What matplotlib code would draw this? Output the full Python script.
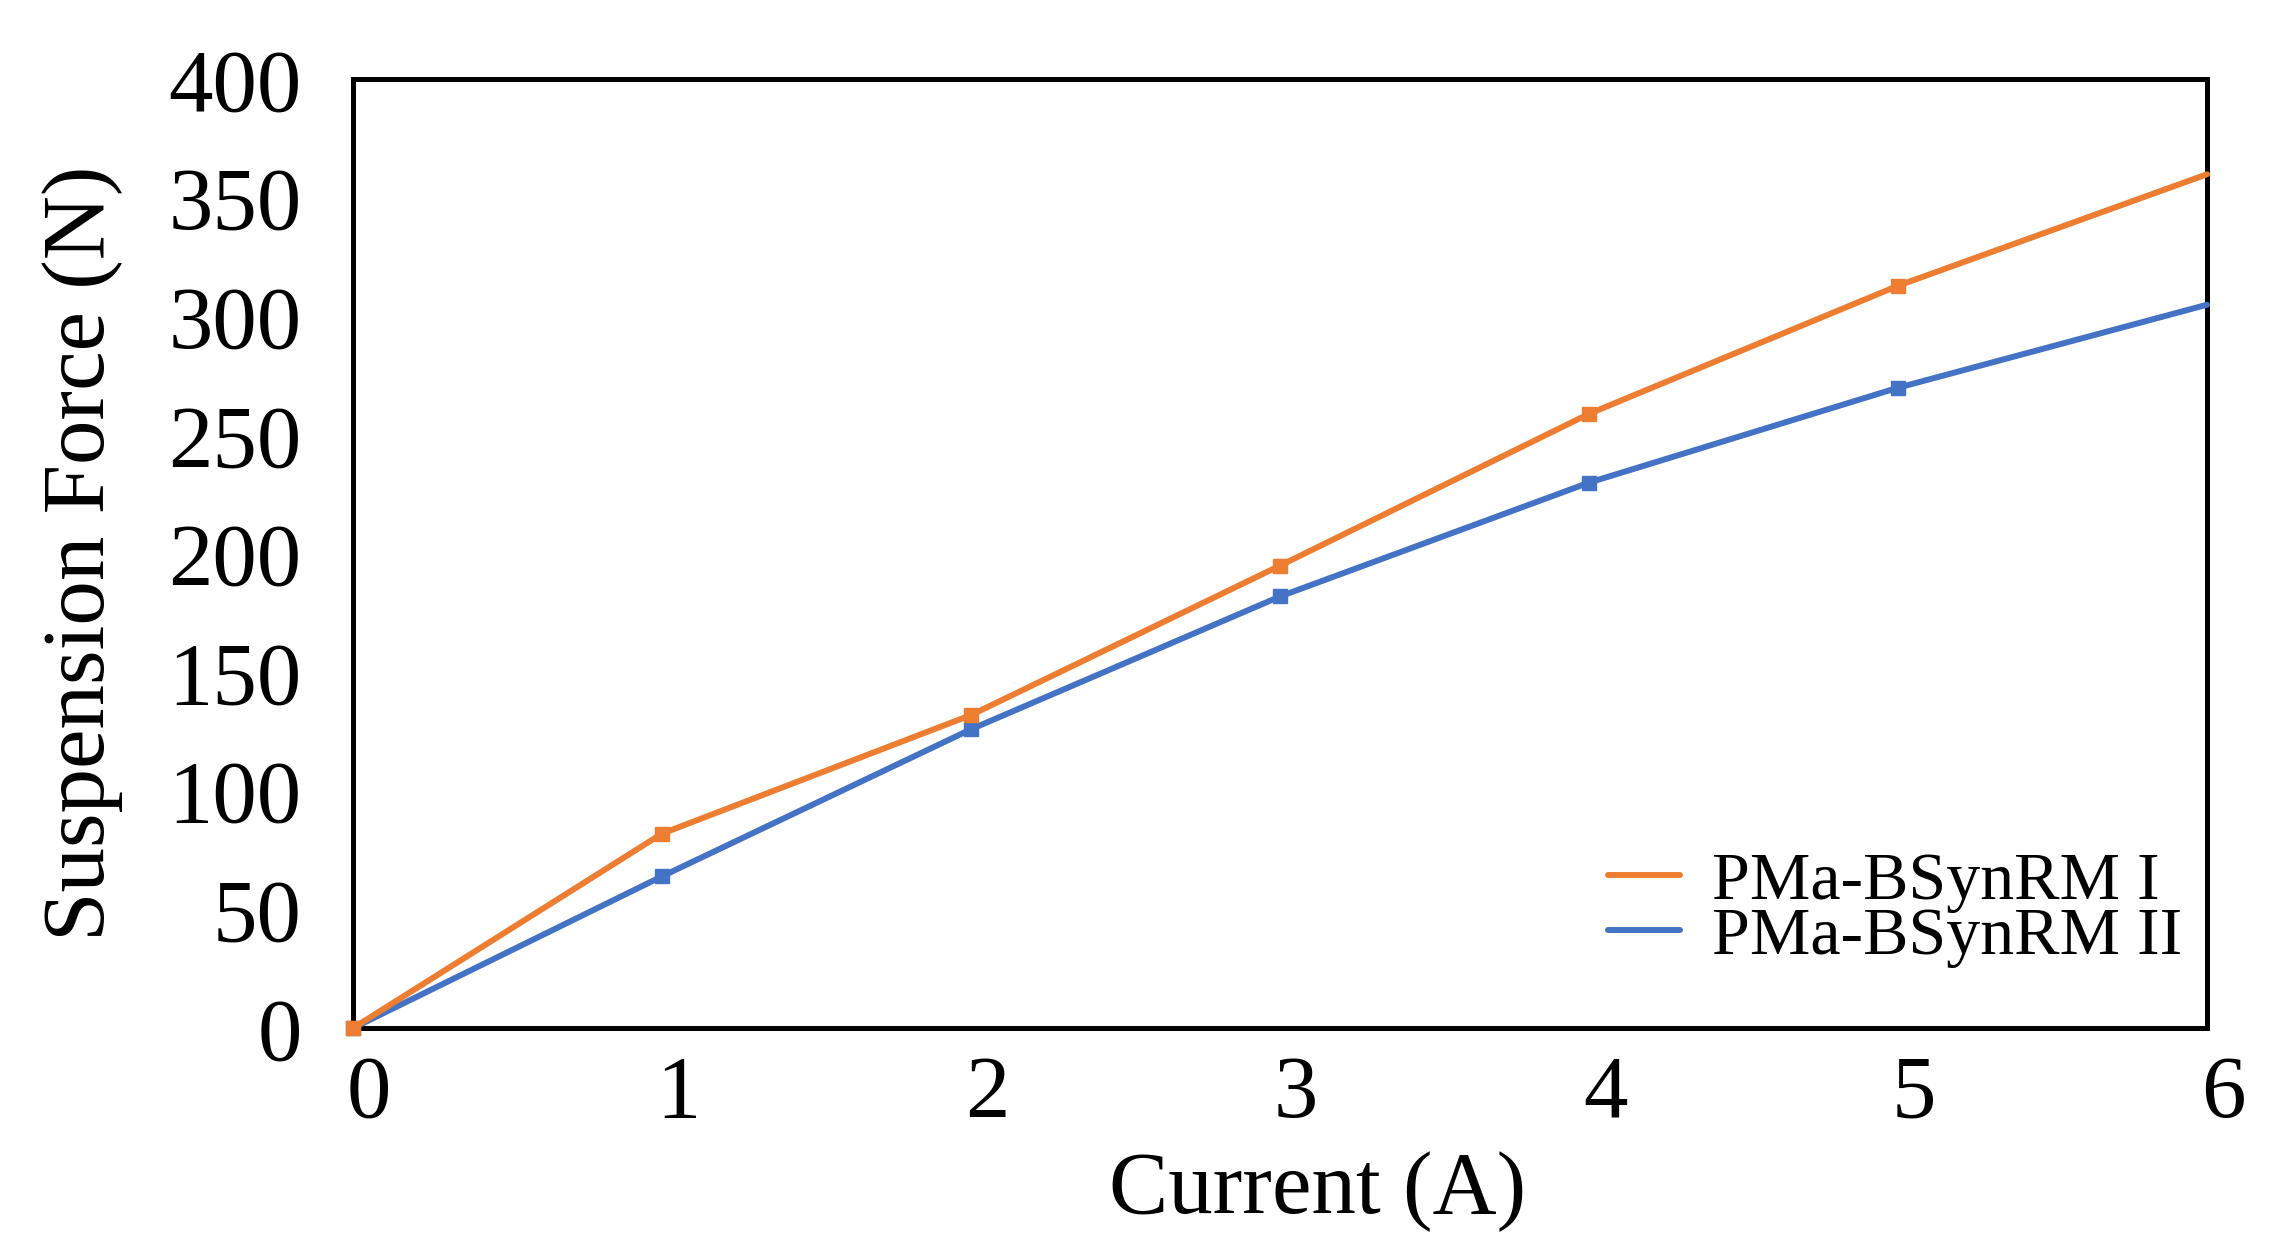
import numpy as np
import matplotlib
matplotlib.use('Agg')
import matplotlib.pyplot as plt
import matplotlib.transforms as mtransforms

plt.rcParams['font.family'] = ['Liberation Serif', 'DejaVu Serif']

current = [0, 1, 2, 3, 4, 5, 6]
force_I = [0, 82, 132, 195, 259, 313, 360]
force_II = [0, 64, 126, 182, 230, 270, 305]
labels = ['PMa-BSynRM I', 'PMa-BSynRM II']

orange = '#ED7D31'
blue = '#4472C4'

fig = plt.figure(figsize=(22.8, 12.6), dpi=100)
ax = fig.add_axes([0.1548, 0.184, 0.8132, 0.753])

# markers on the measured points only, none on the last one
ax.plot(current, force_I, color=orange, lw=4.3, marker='s', ms=10,
        markevery=list(range(6)), label=labels[0], solid_capstyle='round',
        zorder=4, clip_on=False)
ax.plot(current, force_II, color=blue, lw=4.3, marker='s', ms=10,
        markevery=list(range(6)), label=labels[1], solid_capstyle='round',
        zorder=3, clip_on=False)

ax.set_xlim(0, 6)
ax.set_ylim(0, 400)
ax.set_xticks(range(7))
ax.set_yticks(range(0, 401, 50))
ax.tick_params(axis='both', length=0, labelsize=64)
ax.tick_params(axis='x', pad=19)
ax.tick_params(axis='y', pad=37)
# x labels sit a little right of the ticks in the original
shift = mtransforms.ScaledTranslation(16 / 100, 0, fig.dpi_scale_trans)
for lab in ax.get_xticklabels():
    lab.set_transform(lab.get_transform() + shift)
for s in ax.spines.values():
    s.set_linewidth(3.6)
    s.set_color('black')

ax.set_xlabel('Current (A)', fontsize=64, labelpad=0)
ax.xaxis.set_label_coords(0.52, -0.13)
ax.set_ylabel('Suspension Force (N)', fontsize=64)
ax.yaxis.set_label_coords(-0.124, 0.5)

leg = fig.legend(loc='upper left', bbox_to_anchor=(0.7053, 0.3245), frameon=False,
                 fontsize=49, handlelength=1.06, handletextpad=0.47,
                 labelspacing=-0.1, borderpad=0, borderaxespad=0)
for h in leg.get_lines():
    h.set_marker('')
    h.set_linewidth(4.3)

fig.savefig('out.png', dpi=100)
